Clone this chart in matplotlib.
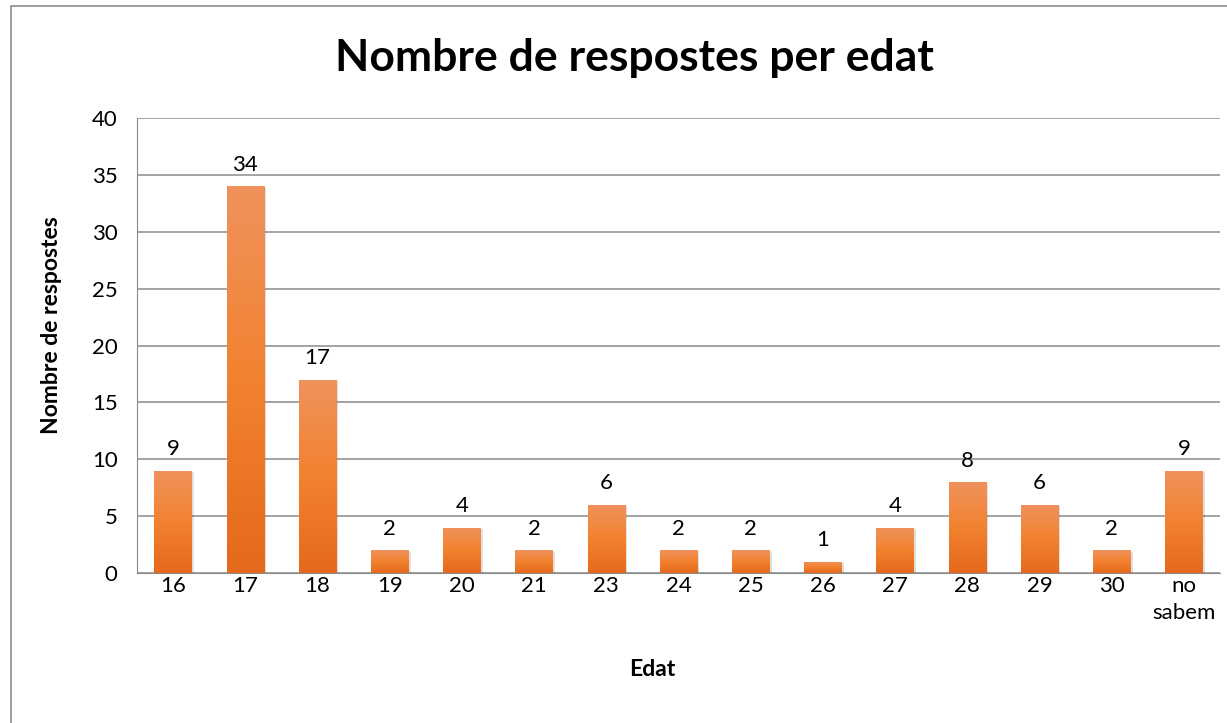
import matplotlib.pyplot as plt
import numpy as np
from matplotlib.patches import Rectangle

plt.rcParams['font.family'] = ['Lato', 'DejaVu Sans']

# dades
edats = ['16', '17', '18', '19', '20', '21', '23', '24', '25', '26',
         '27', '28', '29', '30', 'no\nsabem']
respostes = [9, 34, 17, 2, 4, 2, 6, 2, 2, 1, 4, 8, 6, 2, 9]

fig = plt.figure(figsize=(12.27, 7.23), dpi=100)
# marc exterior del gràfic
fig.patches.append(Rectangle((11 / 1227, -0.01), 1.1, 1 - 5.5 / 723 + 0.01,
                             transform=fig.transFigure, fill=False,
                             edgecolor='#8c8c8c', linewidth=1.2))

ax = fig.add_axes([137 / 1227, 1 - 573 / 723, (1220 - 137) / 1227, (573 - 118) / 723])

x = np.arange(len(edats))
width = 0.52
bars = ax.bar(x, respostes, width=width, color='#f07f2c', zorder=3)

# degradat i ombra de les barres
grad = np.linspace(0, 1, 256).reshape(-1, 1)
cmap = plt.matplotlib.colors.LinearSegmentedColormap.from_list(
    'taronja', ['#e5691c', '#f2822f', '#f0925d'])
for b in bars:
    x0, h = b.get_x(), b.get_height()
    ax.add_patch(Rectangle((x0 + 0.03, 0), width, h - 0.15, facecolor='#000000',
                           alpha=0.12, linewidth=0, zorder=2))
    im = ax.imshow(grad, extent=(x0, x0 + width, 0, h), origin='lower',
                   cmap=cmap, aspect='auto', zorder=4)
    im.set_clip_path(b)

for xi, v in zip(x, respostes):
    ax.text(xi, v + 1.0, str(v), ha='center', va='bottom', fontsize=16, color='black', zorder=5)

ax.set_xlim(-0.5, len(edats) - 0.5)
ax.set_ylim(0, 40)
ax.set_yticks(range(0, 41, 5))
ax.set_xticks(x)
ax.set_xticklabels(edats, fontsize=16, linespacing=1.45, va='top')
ax.tick_params(axis='y', labelsize=16, length=0, pad=14)
ax.tick_params(axis='x', length=0, pad=2)
ax.grid(axis='y', color='#8c8c8c', linewidth=1.1, zorder=0)
ax.set_axisbelow(True)
for s in ['top', 'right']:
    ax.spines[s].set_visible(False)
ax.spines['left'].set_color('#8c8c8c')
ax.spines['bottom'].set_color('#8c8c8c')

ax.set_ylabel('Nombre de respostes', fontsize=16.5, fontweight='bold')
ax.yaxis.set_label_coords(-85 / 1083, (573 - 325) / 455)
ax.set_xlabel('Edat', fontsize=16.5, fontweight='bold')
ax.xaxis.set_label_coords((652 - 137) / 1083, -(670 - 573) / 455)
ax.xaxis.label.set_va('center')
ax.yaxis.label.set_va('center')
fig.text(634 / 1227, 1 - 58 / 723, 'Nombre de respostes per edat', ha='center', va='center',
         fontsize=32, fontweight='bold')

fig.savefig('out.png', dpi=100)
